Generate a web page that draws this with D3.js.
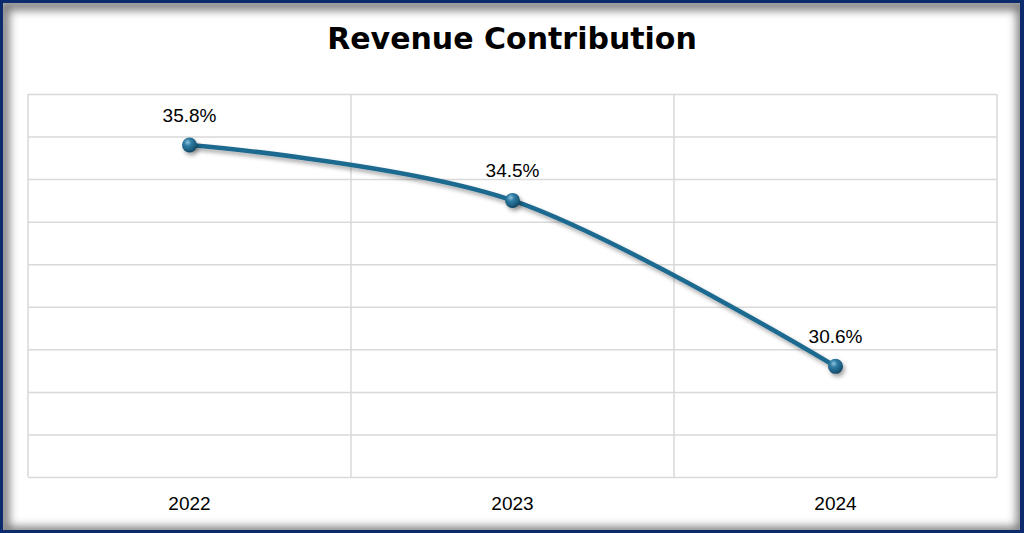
<!DOCTYPE html>
<html>
<head>
<meta charset="utf-8">
<script src="https://cdn.jsdelivr.net/npm/d3@7"></script>
<style>
  body { margin: 0; background: #fff; }
  svg { display: block; }
  text { font-family: "Liberation Sans", Arial, sans-serif; fill: #000; }
</style>
</head>
<body>
<div id="chart"></div>
<script>
const years = ["2022", "2023", "2024"];
const revenueShare = [35.8, 34.5, 30.6];
const yTicks = [28, 29, 30, 31, 32, 33, 34, 35, 36, 37];

const width = 1024;
const height = 533;
const margin = { top: 94, right: 27, bottom: 56, left: 28 };
const innerWidth = width - margin.left - margin.right;
const innerHeight = height - margin.top - margin.bottom;

const data = years.map((y, i) => ({ year: y, value: revenueShare[i] }));

const svg = d3.select("#chart")
    .append("svg")
    .attr("width", width)
    .attr("height", height);

const defs = svg.append("defs");

defs.append("clipPath").attr("id", "frameClip")
    .append("rect")
    .attr("x", 3).attr("y", 3)
    .attr("width", width - 7).attr("height", height - 6);

const blur = defs.append("filter").attr("id", "blur")
    .attr("x", "-10%").attr("y", "-10%").attr("width", "120%").attr("height", "120%");
blur.append("feGaussianBlur").attr("stdDeviation", 5);

const dropShadow = defs.append("filter").attr("id", "dropShadow")
    .attr("x", "-50%").attr("y", "-50%").attr("width", "200%").attr("height", "200%");
dropShadow.append("feDropShadow")
    .attr("dx", 2).attr("dy", 3)
    .attr("stdDeviation", 2)
    .attr("flood-color", "#000")
    .attr("flood-opacity", 0.35);

const ball = defs.append("radialGradient").attr("id", "ball")
    .attr("cx", "38%").attr("cy", "32%").attr("r", "70%");
ball.append("stop").attr("offset", "0%").attr("stop-color", "#8cc3de");
ball.append("stop").attr("offset", "35%").attr("stop-color", "#2f7ca3");
ball.append("stop").attr("offset", "80%").attr("stop-color", "#1a5a7c");
ball.append("stop").attr("offset", "100%").attr("stop-color", "#0f3f5a");

// frame with inner shadow
svg.append("rect")
    .attr("width", width).attr("height", height)
    .attr("fill", "#0b2b6c");
svg.append("rect")
    .attr("x", 3).attr("y", 3)
    .attr("width", width - 7).attr("height", height - 6)
    .attr("fill", "#fff");
svg.append("g")
    .attr("clip-path", "url(#frameClip)")
    .append("rect")
    .attr("x", 4).attr("y", 5)
    .attr("width", width - 6).attr("height", height - 6)
    .attr("fill", "none")
    .attr("stroke", "#000")
    .attr("stroke-opacity", 0.55)
    .attr("stroke-width", 10)
    .attr("filter", "url(#blur)");

svg.append("text")
    .attr("x", width / 2)
    .attr("y", 49)
    .attr("text-anchor", "middle")
    .style("font-family", "'DejaVu Sans', sans-serif")
    .style("font-size", "30px")
    .style("font-weight", "bold")
    .text("Revenue Contribution");

const chart = svg.append("g")
    .attr("transform", `translate(${margin.left}, ${margin.top})`);

const xBand = d3.scaleBand()
    .domain(years)
    .range([0, innerWidth]);

const yScale = d3.scaleLinear()
    .domain([28, 37])
    .range([innerHeight, 0]);

// horizontal gridlines
const yAxis = d3.axisLeft(yScale)
    .tickValues(yTicks)
    .tickSize(-innerWidth)
    .tickFormat("");

chart.append("g")
    .attr("class", "y axis")
    .call(yAxis)
    .call(g => g.select(".domain").remove())
    .call(g => g.selectAll(".tick line")
        .attr("stroke", "#d9d9d9")
        .attr("stroke-width", 1.5));

// vertical category boundaries
const boundaries = years.map(y => xBand(y)).concat([innerWidth]);
chart.selectAll(".vline")
    .data(boundaries)
    .enter()
    .append("line")
    .attr("class", "vline")
    .attr("x1", d => d).attr("x2", d => d)
    .attr("y1", 0).attr("y2", innerHeight)
    .attr("stroke", "#d9d9d9")
    .attr("stroke-width", 1.5);

const xAxis = d3.axisBottom(xBand).tickSize(0).tickPadding(20);
chart.append("g")
    .attr("class", "x axis")
    .attr("transform", `translate(0, ${innerHeight})`)
    .call(xAxis)
    .call(g => g.select(".domain").remove())
    .call(g => g.selectAll("text")
        .style("font-family", "'Liberation Sans', Arial, sans-serif")
        .style("font-size", "19px")
        .attr("fill", "#000"));

const cx = d => xBand(d.year) + xBand.bandwidth() / 2;

const line = d3.line()
    .x(cx)
    .y(d => yScale(d.value))
    .curve(d3.curveCardinal.tension(0));

chart.append("path")
    .datum(data)
    .attr("d", line)
    .attr("fill", "none")
    .attr("stroke", "#1f6a8f")
    .attr("stroke-width", 4.5)
    .attr("stroke-linecap", "round")
    .attr("filter", "url(#dropShadow)");

chart.selectAll(".dot")
    .data(data)
    .enter()
    .append("circle")
    .attr("class", "dot")
    .attr("cx", cx)
    .attr("cy", d => yScale(d.value))
    .attr("r", 7.5)
    .attr("fill", "url(#ball)")
    .attr("filter", "url(#dropShadow)");

chart.selectAll(".label")
    .data(data)
    .enter()
    .append("text")
    .attr("class", "label")
    .attr("x", cx)
    .attr("y", d => yScale(d.value) - 23)
    .attr("text-anchor", "middle")
    .style("font-size", "19px")
    .text(d => d.value.toFixed(1) + "%");
</script>
</body>
</html>
